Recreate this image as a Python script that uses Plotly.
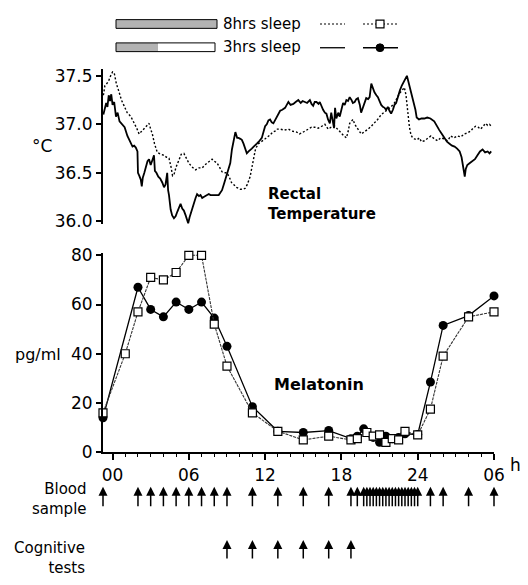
import plotly.graph_objects as go

W, H = 528, 585
ML, MR = 103, 34

# ---------------- rectal temperature (deg C) vs clock hour ----------------
temp_hours_3h = [
    -0.72, -0.65, -0.5, -0.4, -0.3, -0.2, -0.1, 0.0, 0.13, 0.27, 0.4, 0.55, 0.78, 0.95,
    1.17, 1.3, 1.44, 1.57, 1.7, 1.83, 1.96, 2.0, 2.1, 2.22, 2.3, 2.38, 2.5, 2.61, 2.75,
    2.87, 3.0, 3.13, 3.26, 3.33, 3.45, 3.6, 3.75, 3.91, 4.05, 4.17, 4.3, 4.37, 4.44,
    4.57, 4.69, 4.83, 4.96, 5.1, 5.22, 5.35, 5.48, 5.61, 5.75, 5.87, 5.95, 6.06, 6.15,
    6.26, 6.4, 6.53, 6.65, 6.8, 6.92, 7.05, 7.17, 7.31, 7.45, 7.57, 7.7, 8.0, 8.35,
    8.5, 8.61, 8.75, 8.87, 9.0, 9.13, 9.26, 9.39, 9.5, 9.6, 9.66, 9.8, 9.91, 10.05,
    10.17, 10.3, 10.44, 10.56, 10.7, 10.82, 10.95, 11.1, 11.22, 11.35, 11.5, 11.61,
    11.74, 11.87, 12.0, 12.13, 12.26, 12.39, 12.52, 12.65, 12.78, 12.91, 13.05, 13.18,
    13.35, 13.57, 13.7, 13.83, 14.0, 14.22, 14.4, 14.61, 14.8, 14.95, 15.13, 15.3,
    15.52, 15.65, 15.78, 15.9, 16.04, 16.2, 16.3, 16.45, 16.56, 16.7, 16.82, 16.95,
    17.09, 17.2, 17.3, 17.42, 17.5, 17.6, 17.75, 17.87, 18.0, 18.13, 18.26, 18.39,
    18.52, 18.65, 18.8, 18.9, 19.04, 19.17, 19.3, 19.45, 19.55, 19.7, 19.82, 19.95,
    20.1, 20.22, 20.35, 20.5, 20.6, 20.75, 20.87, 21.0, 21.13, 21.26, 21.4, 21.52,
    21.65, 21.78, 21.91, 22.05, 22.17, 22.3, 22.45, 22.6, 22.75, 22.9, 23.05, 23.15,
    23.25, 23.4, 23.55, 23.7, 23.82, 23.92, 24.1, 24.3, 24.52, 24.75, 25.0, 25.3,
    25.5, 25.7, 25.9, 26.1, 26.3, 26.5, 26.7, 26.9, 27.1, 27.3, 27.45, 27.55, 27.65,
    27.7, 27.78, 27.9, 28.1, 28.3, 28.5, 28.7, 28.9, 29.1, 29.3, 29.5, 29.65, 29.78,
]
temp_3h = [
    37.10, 37.15, 37.22, 37.18, 37.30, 37.24, 37.31, 37.20, 37.23, 37.08, 37.12, 37.03, 37.00, 36.97,
    36.88, 36.84, 36.80, 36.77, 36.78, 36.76, 36.72, 36.50, 36.47, 36.43, 36.36, 36.45, 36.50, 36.55, 36.62,
    36.64, 36.58, 36.63, 36.68, 36.52, 36.50, 36.46, 36.44, 36.40, 36.35, 36.38, 36.50, 36.32, 36.27,
    36.12, 36.06, 36.03, 36.05, 36.10, 36.14, 36.18, 36.13, 36.11, 36.06, 36.01, 35.98, 36.04, 36.08,
    36.13, 36.20, 36.24, 36.28, 36.26, 36.27, 36.24, 36.25, 36.26, 36.27, 36.28, 36.27, 36.27, 36.27,
    36.30, 36.32, 36.38, 36.43, 36.50, 36.54, 36.60, 36.74, 36.82, 36.90, 36.92, 36.86, 36.86, 36.85,
    36.84, 36.80, 36.74, 36.70, 36.72, 36.74, 36.75, 36.77, 36.78, 36.80, 36.82, 36.84,
    36.86, 36.92, 36.98, 37.00, 37.04, 37.05, 37.02, 37.01, 37.04, 37.08, 37.10, 37.14,
    37.15, 37.17, 37.20, 37.23, 37.20, 37.21, 37.23, 37.25, 37.22, 37.24, 37.23, 37.22,
    37.25, 37.21, 37.19, 37.23, 37.23, 37.21, 37.23, 37.18, 37.15, 37.12, 37.11, 37.05,
    37.01, 37.12, 37.05, 36.96, 37.17, 37.06, 37.12, 37.08, 37.15, 37.22, 37.20, 37.25,
    37.24, 37.28, 37.25, 37.22, 37.23, 37.26, 37.27, 37.20, 37.12, 37.18, 37.24, 37.27,
    37.26, 37.28, 37.42, 37.36, 37.33, 37.30, 37.28, 37.24, 37.20, 37.18, 37.17, 37.15,
    37.18, 37.14, 37.11, 37.15, 37.20, 37.22, 37.30, 37.35, 37.40, 37.44, 37.48, 37.50,
    37.45, 37.37, 37.30, 37.24, 37.15, 37.07, 37.05, 37.06, 37.06, 37.07, 37.06, 37.03,
    36.98, 36.94, 36.90, 36.86, 36.82, 36.80, 36.78, 36.77, 36.75, 36.72, 36.66, 36.58, 36.50,
    36.46, 36.54, 36.58, 36.60, 36.62, 36.64, 36.68, 36.72, 36.74, 36.71, 36.72, 36.70, 36.72,
]

temp_hours_8h = [
    -0.72, -0.6, -0.45, -0.3, -0.15, 0.0, 0.13, 0.3, 0.52, 0.7, 0.91, 1.15, 1.44, 1.7,
    1.9, 2.09, 2.3, 2.48, 2.7, 2.87, 3.0, 3.13, 3.3, 3.52, 3.8, 4.05, 4.25, 4.44, 4.6,
    4.72, 4.83, 5.0, 5.22, 5.4, 5.61, 5.8, 6.0, 6.25, 6.53, 6.8, 7.05, 7.25, 7.44, 7.65,
    7.83, 8.0, 8.22, 8.4, 8.61, 8.8, 9.0, 9.2, 9.35, 9.52, 9.75, 10.04, 10.25, 10.43,
    10.6, 10.82, 10.95, 11.09, 11.25, 11.48, 11.7, 11.87, 12.1, 12.39, 12.6, 12.78,
    12.91, 13.18, 13.5, 13.83, 14.1, 14.48, 14.7, 14.87, 15.13, 15.4, 15.65, 15.9,
    16.17, 16.45, 16.7, 16.96, 17.2, 17.48, 17.75, 18.0, 18.2, 18.39, 18.52, 18.65,
    18.8, 18.91, 19.05, 19.17, 19.35, 19.56, 19.8, 20.09, 20.35, 20.6, 20.85, 21.13,
    21.4, 21.65, 21.9, 22.17, 22.4, 22.57, 22.7, 22.82, 22.95, 23.08, 23.15, 23.22,
    23.35, 23.47, 23.6, 23.74, 23.95, 24.13, 24.3, 24.52, 24.8, 25.04, 25.3, 25.56,
    25.8, 26.09, 26.35, 26.6, 26.85, 27.13, 27.4, 27.65, 27.9, 28.17, 28.35, 28.56,
    28.75, 28.95, 29.15, 29.34, 29.5, 29.65, 29.78,
]
temp_8h = [
    37.30, 37.40, 37.42, 37.45, 37.50, 37.54, 37.53, 37.42, 37.33, 37.25, 37.19, 37.12, 37.08, 37.02,
    36.96, 36.90, 36.93, 36.95, 36.99, 37.01, 36.95, 36.90, 36.80, 36.71, 36.69, 36.68, 36.66, 36.65, 36.56,
    36.47, 36.48, 36.56, 36.63, 36.69, 36.70, 36.65, 36.60, 36.56, 36.53, 36.55, 36.55, 36.58, 36.60, 36.62,
    36.64, 36.62, 36.60, 36.56, 36.51, 36.50, 36.50, 36.45, 36.40, 36.38, 36.35, 36.33, 36.33, 36.34,
    36.38, 36.46, 36.55, 36.68, 36.75, 36.80, 36.82, 36.83, 36.86, 36.89, 36.92, 36.93,
    36.95, 36.95, 36.94, 36.95, 36.93, 36.92, 36.90, 36.91, 36.93, 36.95, 36.97, 36.97,
    36.96, 36.98, 37.00, 36.95, 36.97, 36.98, 36.94, 36.90, 36.88, 36.86, 36.92, 37.01,
    37.04, 37.05, 37.00, 36.98, 36.94, 36.90, 36.92, 36.95, 36.98, 37.01, 37.05, 37.10,
    37.13, 37.15, 37.18, 37.22, 37.28, 37.32, 37.34, 37.36, 37.38, 37.30, 37.20, 37.10,
    36.97, 36.89, 36.86, 36.85, 36.84, 36.86, 36.82, 36.83, 36.86, 36.88, 36.85, 36.83,
    36.86, 36.85, 36.83, 36.88, 36.86, 36.88, 36.87, 36.90, 36.91, 36.93, 36.96, 36.98,
    36.97, 36.95, 36.98, 37.01, 36.99, 37.00, 36.98,
]

# ---------------- plasma melatonin (pg/ml) ----------------
mel_hours_8h = [-0.75, 1.0, 2, 3, 4, 5, 6, 7, 8, 9, 11, 13, 15, 17, 18.75, 19.25,
                20.0, 20.5, 21.0, 21.5, 22.0, 22.5, 23.0, 24, 25, 26, 28, 30]
mel_8h = [16, 40, 57, 71, 70, 73, 80, 80, 52, 35, 16, 8.5, 5, 6.5, 5, 5.5,
          8, 6.5, 7, 4, 5.5, 5, 8.5, 7, 17.5, 39, 55, 57]

mel_hours_3h = [-0.75, 2, 3, 4, 5, 6, 7, 8, 9, 11, 13, 15, 17, 18.75, 19.25, 19.75,
                20.5, 21.0, 21.5, 22.0, 22.5, 23.0, 24, 25, 26, 28, 30]
mel_3h = [14, 67, 58, 55, 61, 58, 61, 54.5, 43, 18.5, 8.5, 8, 8.8, 5.5, 6.5, 9.5,
          6, 4, 6.5, 5.5, 6, 7.5, 7.2, 28.5, 51.5, 55.5, 63.5]

# ---------------- sampling schedule ----------------
blood_sample_hours = [-0.75, 2, 3, 4, 5, 6, 7, 8, 9, 11, 13, 15, 17, 18.75, 19.25,
                      19.75, 20.0, 20.25, 20.5, 20.75, 21.0, 21.25, 21.5, 21.75, 22.0,
                      22.25, 22.5, 22.75, 23.0, 23.25, 23.5, 23.75, 24.0,
                      25, 26, 28, 30]
cognitive_test_hours = [9, 11, 13, 15, 17, 18.75]

tick_hours = [0, 6, 12, 18, 24, 30]
tick_labels = ["00", "06", "12", "18", "24", "06"]
temp_ticks = [36.0, 36.5, 37.0, 37.5]
mel_ticks = [0, 20, 40, 60, 80]

FONT = "DejaVu Sans"
X_RANGE = [-0.75, 30.0]
FINE_DOT = "2px,2px"


def fx(px):
    """pixel column -> paper x"""
    return (px - ML) / (W - ML - MR)


def fy(py):
    """pixel row -> paper y"""
    return 1 - py / H


fig = go.Figure()

fig.add_trace(go.Scatter(
    x=temp_hours_8h, y=temp_8h, mode="lines", xaxis="x", yaxis="y",
    line=dict(color="black", width=1.4, dash=FINE_DOT), showlegend=False))
fig.add_trace(go.Scatter(
    x=temp_hours_3h, y=temp_3h, mode="lines", xaxis="x", yaxis="y",
    line=dict(color="black", width=1.8), showlegend=False))

fig.add_trace(go.Scatter(
    x=mel_hours_3h, y=mel_3h, mode="lines+markers", xaxis="x2", yaxis="y2",
    line=dict(color="black", width=1.3),
    marker=dict(symbol="circle", size=9, color="black"),
    cliponaxis=False, showlegend=False))
fig.add_trace(go.Scatter(
    x=mel_hours_8h, y=mel_8h, mode="lines+markers", xaxis="x2", yaxis="y2",
    line=dict(color="#333333", width=1.1, dash="3px,1px"),
    marker=dict(symbol="square", size=8, color="white",
                line=dict(color="black", width=1.2)),
    cliponaxis=False, showlegend=False))

tickfont = dict(family=FONT, size=17, color="black")

fig.update_layout(
    width=W, height=H,
    margin=dict(l=ML, r=MR, t=0, b=0),
    paper_bgcolor="white", plot_bgcolor="white",
    showlegend=False,
    xaxis=dict(domain=[0, 1], range=X_RANGE, anchor="y", visible=False),
    yaxis=dict(domain=[fy(223), fy(63)], range=[35.97, 37.57], anchor="x",
               tickvals=temp_ticks, ticktext=[f"{v:.1f}" for v in temp_ticks],
               ticks="outside", ticklen=5, tickwidth=1.5, tickcolor="black",
               showline=True, linewidth=2, linecolor="black",
               showgrid=False, zeroline=False, tickfont=tickfont),
    xaxis2=dict(domain=[0, 1], range=X_RANGE, anchor="y2",
                tickvals=tick_hours, ticktext=tick_labels,
                ticks="outside", ticklen=6, tickwidth=1.5, tickcolor="black",
                minor=dict(tickmode="linear", tick0=0, dtick=1, ticks="outside",
                           ticklen=3, tickwidth=1, tickcolor="black"),
                showline=True, linewidth=2, linecolor="black",
                showgrid=False, zeroline=False, tickfont=tickfont),
    yaxis2=dict(domain=[fy(458.3), fy(252.6)], range=[0, 81], anchor="x2",
                tickvals=mel_ticks, ticks="outside", ticklen=5, tickwidth=1.5,
                tickcolor="black", showline=True, linewidth=2, linecolor="black",
                showgrid=False, zeroline=False, tickfont=tickfont),
)

annotations = []


def label(text, px, py, size=15, xanchor="center", align="center"):
    annotations.append(dict(
        text=text, x=fx(px), y=fy(py), xref="paper", yref="paper",
        xanchor=xanchor, yanchor="middle", align=align, showarrow=False,
        font=dict(family=FONT, size=size, color="black")))


label("°C", 42, 142, size=17)
label("pg/ml", 38, 358, size=16)
label("<b>Rectal</b><br><b>Temperature</b>", 266, 202, size=15, xanchor="left", align="left")
label("<b>Melatonin</b>", 272, 388, size=16, xanchor="left")
label("h", 515, 472, size=17)
label("Blood<br>sample", 89, 507, size=15, xanchor="right", align="right")
label("Cognitive<br>tests", 87, 567, size=15, xanchor="right", align="right")
label("8hrs sleep", 221, 16.5, size=15, xanchor="left")
label("3hrs sleep", 221, 40.5, size=15, xanchor="left")


def arrows(hours, head_py, length):
    for h in hours:
        annotations.append(dict(
            x=h, y=fy(head_py), xref="x2", yref="paper", text="",
            showarrow=True, ax=0, ay=length, arrowhead=2, arrowsize=1.2,
            arrowwidth=1.5, arrowcolor="black"))


arrows(blood_sample_hours, 494, 21)
arrows(cognitive_test_hours, 549, 20)

fig.update_layout(annotations=annotations)

# key at the top: sleep-opportunity bars and line styles
shapes = [
    dict(type="rect", x0=fx(116), x1=fx(217), y0=fy(21), y1=fy(12),
         fillcolor="#b3b3b3", line=dict(color="black", width=1)),
    dict(type="rect", x0=fx(116), x1=fx(158), y0=fy(45), y1=fy(36),
         fillcolor="#b3b3b3", line=dict(width=0)),
    dict(type="rect", x0=fx(116), x1=fx(215), y0=fy(45), y1=fy(36),
         fillcolor="rgba(0,0,0,0)", line=dict(color="black", width=1)),
    dict(type="line", x0=fx(320), x1=fx(345), y0=fy(16.5), y1=fy(16.5),
         line=dict(color="black", width=1.2, dash=FINE_DOT)),
    dict(type="line", x0=fx(363), x1=fx(398), y0=fy(16.5), y1=fy(16.5),
         line=dict(color="black", width=1.2, dash=FINE_DOT)),
    dict(type="rect", x0=fx(376), x1=fx(384), y0=fy(20.5), y1=fy(12.5),
         fillcolor="white", line=dict(color="black", width=1.2)),
    dict(type="line", x0=fx(320), x1=fx(345), y0=fy(41), y1=fy(41),
         line=dict(color="black", width=1.3)),
    dict(type="line", x0=fx(363), x1=fx(398), y0=fy(41), y1=fy(41),
         line=dict(color="black", width=1.3)),
    dict(type="circle", x0=fx(376), x1=fx(384), y0=fy(45), y1=fy(37),
         fillcolor="black", line=dict(color="black", width=1)),
]
for s in shapes:
    s.setdefault("xref", "paper")
    s.setdefault("yref", "paper")
fig.update_layout(shapes=shapes)

fig.write_html("out.html")
